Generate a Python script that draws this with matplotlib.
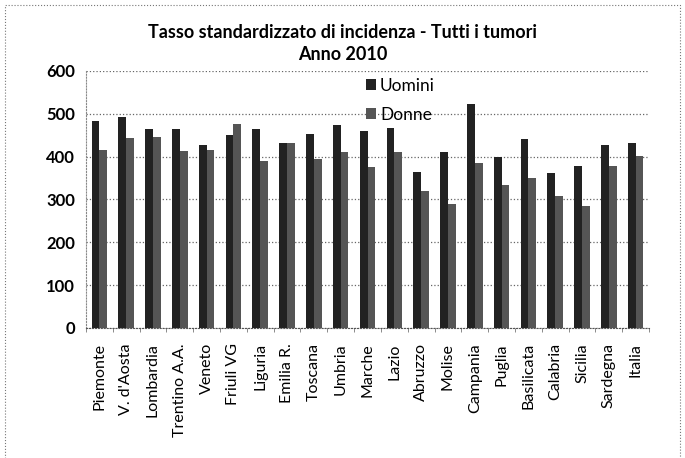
import matplotlib.pyplot as plt
import numpy as np
from matplotlib.patches import Rectangle

regioni = ["Piemonte", "V. d'Aosta", "Lombardia", "Trentino A.A.", "Veneto",
           "Friuli VG", "Liguria", "Emilia R.", "Toscana", "Umbria", "Marche",
           "Lazio", "Abruzzo", "Molise", "Campania", "Puglia", "Basilicata",
           "Calabria", "Sicilia", "Sardegna", "Italia"]
uomini = [484, 493, 464, 464, 428, 450, 464, 431, 453, 473, 460,
          466, 363, 411, 522, 399, 442, 361, 378, 428, 432]
donne = [415, 443, 446, 413, 415, 476, 389, 433, 395, 410, 376,
         411, 319, 289, 385, 334, 349, 308, 284, 377, 401]
yticks = [0, 100, 200, 300, 400, 500, 600]

plt.rcParams['font.family'] = ['Lato', 'DejaVu Sans']

fig = plt.figure(figsize=(6.85, 4.58), dpi=100)
fig.patches.append(Rectangle((0.008, -0.05), 0.985, 1.04, transform=fig.transFigure,
                             fill=False, ls=':', lw=0.8, ec='#777777'))
ax = fig.add_axes([0.1255, 0.284, 0.822, 0.561])

x = np.arange(len(regioni))
w = 0.29
ax.bar(x - w / 2, uomini, w, color='#222222', label='Uomini')
ax.bar(x + w / 2, donne, w, color='#555555', label='Donne')

ax.set_xlim(-0.5, len(regioni) - 0.5)
ax.set_ylim(0, 600)
ax.set_yticks(yticks)
ax.set_yticklabels([str(v) for v in yticks], fontsize=12, fontweight='bold')
ax.set_xticks(x)
ax.set_xticklabels(regioni, rotation=90, fontsize=11.5)
ax.set_xticks(np.arange(len(regioni) + 1) - 0.5, minor=True)
ax.yaxis.grid(True, ls=':', lw=0.9, color='#666666')
ax.set_axisbelow(True)
for s in ['top', 'right']:
    ax.spines[s].set_visible(False)
ax.spines['left'].set_linestyle(':')
ax.spines['left'].set_color('#888888')
ax.spines['bottom'].set_linestyle(':')
ax.spines['bottom'].set_color('#555555')
ax.tick_params(axis='y', length=0, pad=8)
ax.tick_params(axis='x', which='major', length=0, pad=11)
ax.tick_params(axis='x', which='minor', length=3, color='#777777')

ax.legend(loc='upper left', bbox_to_anchor=(0.47, 1.035), frameon=False, fontsize=12.5,
          handlelength=0.55, handleheight=0.55, labelspacing=0.75, handletextpad=0.25)

fig.text(0.5, 0.93, "Tasso standardizzato di incidenza - Tutti i tumori", ha='center',
         va='center', fontsize=13, fontweight='bold')
fig.text(0.5, 0.88, "Anno 2010", ha='center', va='center', fontsize=13, fontweight='bold')

fig.savefig('out.png', dpi=100)
